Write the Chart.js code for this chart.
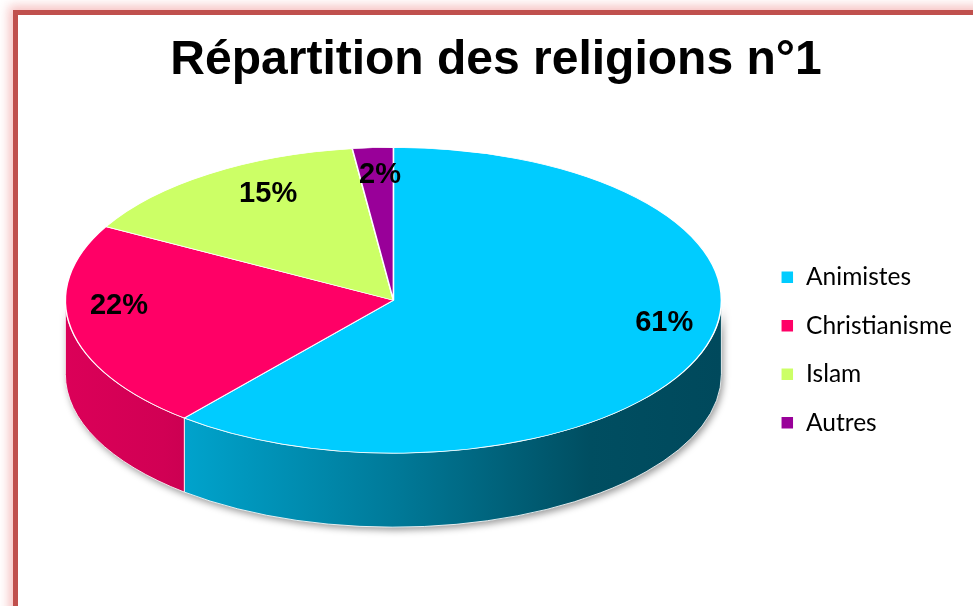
<!DOCTYPE html>
<html>
<head>
<meta charset="utf-8">
<title>Répartition des religions n°1</title>
<script src="https://cdn.jsdelivr.net/npm/chart.js@4.4.1/dist/chart.umd.min.js"></script>
<style>
  html, body { margin: 0; padding: 0; background: #fff; overflow: hidden; }
  body { width: 973px; height: 606px; position: relative; }
  #frame {
    position: absolute; left: 13px; top: 10px; width: 990px; height: 610px;
    box-sizing: border-box; border: 5px solid #c0504d;
    box-shadow: 0 0 10px 4px rgba(240, 150, 150, 0.6);
  }
  #wrap { position: absolute; left: 0; top: 0; width: 973px; height: 606px; }
</style>
</head>
<body>
<div id="frame"></div>
<div id="wrap"><canvas id="religionChart"></canvas></div>
<script>
const categories = ['Animistes', 'Christianisme', 'Islam', 'Autres'];
const shares = [61, 22, 15, 2];
const sliceColors = ['#00ccff', '#ff0066', '#ccff66', '#990099'];

// darken a hex colour by a factor (1 = unchanged)
function shade(hex, f) {
    const n = parseInt(hex.slice(1), 16);
    const r = Math.round(((n >> 16) & 255) * f);
    const g = Math.round(((n >> 8) & 255) * f);
    const b = Math.round((n & 255) * f);
    return `rgb(${r}, ${g}, ${b})`;
}

// Fake 3D: squash the pie vertically and add a side wall under the front half
const pie3d = {
    id: 'pie3d',
    beforeDatasetsDraw(chart, args, opts) {
        const arcs = chart.getDatasetMeta(0).data;
        if (!arcs.length) return;
        const ctx = chart.ctx;
        const { x, y, outerRadius } = arcs[0];
        const cy = y - opts.lift;
        const ry = outerRadius * opts.tilt;

        ctx.save();
        // shadow under the whole wall first
        ctx.beginPath();
        ctx.ellipse(x, cy, outerRadius, ry, 0, 0, Math.PI);
        ctx.ellipse(x, cy + opts.depth, outerRadius, ry, 0, Math.PI, 0, true);
        ctx.closePath();
        ctx.shadowColor = 'rgba(0, 0, 0, 0.4)';
        ctx.shadowBlur = 7;
        ctx.shadowOffsetX = 2;
        ctx.shadowOffsetY = 3;
        ctx.fillStyle = '#888';
        ctx.fill();
        ctx.shadowColor = 'transparent';

        arcs.forEach((arc, i) => {
            const a1 = Math.max(arc.startAngle, 0);
            const a2 = Math.min(arc.endAngle, Math.PI);
            if (a2 <= a1) return;
            const base = sliceColors[i];
            const grad = ctx.createLinearGradient(x - outerRadius, 0, x + outerRadius, 0);
            grad.addColorStop(0, shade(base, 0.86));
            grad.addColorStop(0.15, shade(base, 0.82));
            grad.addColorStop(0.5, shade(base, 0.6));
            grad.addColorStop(0.8, shade(base, 0.38));
            grad.addColorStop(1, shade(base, 0.36));
            ctx.beginPath();
            ctx.ellipse(x, cy, outerRadius, ry, 0, a1, a2);
            ctx.ellipse(x, cy + opts.depth, outerRadius, ry, 0, a2, a1, true);
            ctx.closePath();
            ctx.fillStyle = grad;
            ctx.fill();
            ctx.strokeStyle = 'rgba(255, 255, 255, 0.85)';
            ctx.lineWidth = 1;
            ctx.stroke();
        });
        ctx.restore();

        // top face: library arcs drawn through a vertical squash
        ctx.save();
        ctx.translate(x, cy);
        ctx.scale(1, opts.tilt);
        ctx.translate(-x, -y);
    },
    afterDatasetsDraw(chart, args, opts) {
        const arcs = chart.getDatasetMeta(0).data;
        if (!arcs.length) return;
        const ctx = chart.ctx;
        ctx.restore();

        // percentage labels, pulled in a bit toward the back like a perspective view
        ctx.save();
        ctx.font = 'bold 29px "Liberation Sans", Arial, sans-serif';
        ctx.fillStyle = '#000';
        ctx.textAlign = 'center';
        ctx.textBaseline = 'middle';
        arcs.forEach((arc, i) => {
            const mid = (arc.startAngle + arc.endAngle) / 2;
            const s = Math.sin(mid), c = Math.cos(mid);
            const R = arc.outerRadius;
            const lx = arc.x + R * (opts.labelRadius + opts.perspective * s) * c;
            const ly = arc.y - opts.lift + R * opts.tilt * opts.labelRadiusY * s + opts.labelShift;
            ctx.fillText(shares[i] + '%', lx, ly);
        });
        ctx.restore();
    }
};

const ctx = document.getElementById('religionChart');
new Chart(ctx, {
    type: 'pie',
    data: {
        labels: categories,
        datasets: [{
            data: shares,
            backgroundColor: sliceColors,
            borderColor: '#ffffff',
            borderWidth: 1.5,
            hoverOffset: 0,
            clip: false
        }]
    },
    options: {
        responsive: true,
        maintainAspectRatio: false,
        animation: false,
        radius: 328,
        layout: {
            padding: { top: 15, left: 30, right: 11, bottom: 7 }
        },
        plugins: {
            title: {
                display: true,
                text: 'Répartition des religions n°1',
                color: '#000',
                font: { family: '"Liberation Sans", Arial, sans-serif', size: 48, weight: 'bold' },
                padding: { top: 17, bottom: 10 }
            },
            legend: {
                display: true,
                position: 'right',
                title: { display: true, text: '', padding: 31, font: { size: 20 } },
                labels: {
                    color: '#000',
                    font: { family: 'Lato, "Open Sans", sans-serif', size: 24.5 },
                    boxWidth: 13,
                    boxHeight: 13,
                    padding: 24
                }
            },
            tooltip: { enabled: false },
            pie3d: {
                tilt: 0.466, depth: 74, lift: 49,
                labelRadius: 0.82, perspective: 0.17, labelRadiusY: 0.72, labelShift: -15
            }
        }
    },
    plugins: [pie3d]
});
</script>
</body>
</html>
